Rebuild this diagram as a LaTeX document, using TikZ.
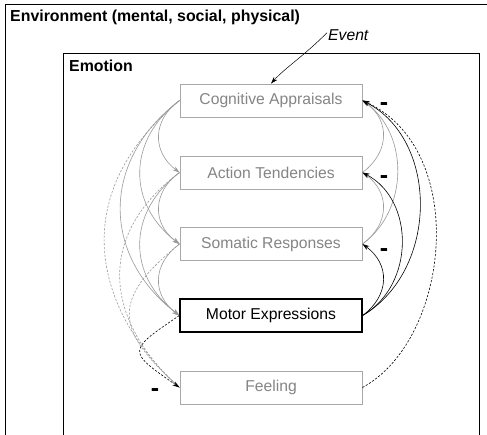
\documentclass[tikz,border=0pt]{standalone}
\usepackage{fontspec}
\setmainfont{Liberation Sans}
\usetikzlibrary{arrows.meta}
\definecolor{boxgray}{HTML}{A8A8A8}
\definecolor{txtgray}{HTML}{858585}
\definecolor{linegray}{HTML}{9A9A9A}
\tikzset{
  comp/.style={draw=boxgray, line width=0.9pt, text=txtgray, minimum width=182pt, minimum height=33pt, inner sep=0pt, font=\fontsize{15.7}{18}\selectfont},
  compdark/.style={comp, draw=black, line width=1.3pt, text=black},
  gline/.style={draw=linegray, line width=0.6pt, -{Stealth[length=7pt,width=4.5pt]}, color=linegray},
  bline/.style={draw=black, line width=0.6pt, -{Stealth[length=7pt,width=4.5pt]}},
  gdash/.style={draw=linegray, line width=0.6pt, dash pattern=on 2.2pt off 1.6pt},
  bdash/.style={draw=black, line width=0.6pt, dash pattern=on 2.2pt off 1.6pt, -{Stealth[length=7pt,width=4.5pt]}},
  minus/.style={font=\fontsize{25}{26}\selectfont\bfseries, inner sep=0pt},
  frame/.style={draw=black, line width=0.9pt}
}
\begin{document}
\begin{tikzpicture}[x=1pt,y=-1pt]
\useasboundingbox (0,0) rectangle (487,434);
\fill[white] (0,0) rectangle (487,434);
% frames
\draw[frame] (5,440) -- (5,4.5) -- (490,4.5);
\draw[frame] (63.5,440) -- (63.5,53.5) -- (479,53.5) -- (479,440);
\node[anchor=base west, inner sep=0pt, font=\fontsize{15.9}{18}\selectfont\bfseries] (env) at (10,21) {Environment (mental, social, physical)};
\node[anchor=base west, inner sep=0pt, font=\fontsize{15.9}{18}\selectfont\bfseries] (emo) at (69,71) {Emotion};
% components
\node[comp] (ca) at (271,100.5) {Cognitive Appraisals};
\node[comp] (at) at (271,172.5) {Action Tendencies};
\node[comp] (sr) at (271,244) {Somatic Responses};
\node[compdark] (me) at (271,315.5) {Motor Expressions};
\node[comp] (fe) at (271,387.5) {Feeling};
% event
\node[anchor=base west, inner sep=0pt, font=\fontsize{15.7}{18}\selectfont\itshape] (ev) at (328,40) {Event};
\draw[black, line width=0.5pt, -{Stealth[length=7pt,width=4.5pt]}] (ev.west) ++(-1,-2) coordinate (evs) (evs) .. controls (305,55) and (285,68) .. (ca.north);
% left side: forward influences (gray)
\draw[gline] (ca.west) .. controls (152,120) and (152,152) .. (at.west);
\draw[gline] (ca.west) .. controls (127,140) and (127,204) .. (sr.west);
\draw[gline] (ca.west) .. controls (101,160) and (101,255) .. (me.west);
\draw[gline] (at.west) .. controls (152,192) and (152,224) .. (sr.west);
\draw[gline] (at.west) .. controls (127,212) and (127,275) .. (me.west);
\draw[gline] (sr.west) .. controls (152,264) and (152,295) .. (me.west);
% left side: to feeling (dashed)
\draw[gdash] (ca.west) .. controls (60,200) and (100,317) .. (fe.west);
\draw[gdash] (at.west) .. controls (90,240) and (110,326) .. (fe.west);
\draw[gdash] (sr.west) .. controls (110,300) and (115,330) .. (fe.west);
\draw[bdash] (me.west) .. controls (127,351) .. (fe.west);
% right side: feedback (gray)
\draw[gline] (at.east) .. controls (390,152) and (390,120) .. (ca.east);
\draw[gline] (sr.east) .. controls (390,224) and (390,192) .. (at.east);
\draw[gline] (sr.east) .. controls (409,210) and (409,134) .. (ca.east);
% right side: feedback from motor expressions (black)
\draw[bline] (me.east) .. controls (390,295) and (390,264) .. (sr.east);
\draw[bline] (me.east) .. controls (415,285) and (415,200) .. (at.east);
\draw[bline] (me.east) .. controls (439,270) and (439,140) .. (ca.east);
% feeling back to appraisal (dashed)
\draw[bdash] (fe.east) .. controls (450,340) and (470,150) .. (ca.east);
% minus signs
\node[minus] (m1) at (384,107) {-};
\node[minus] (m2) at (384,180) {-};
\node[minus] (m3) at (384,253) {-};
\node[minus] (m4) at (155,393) {-};
\end{tikzpicture}
\end{document}
